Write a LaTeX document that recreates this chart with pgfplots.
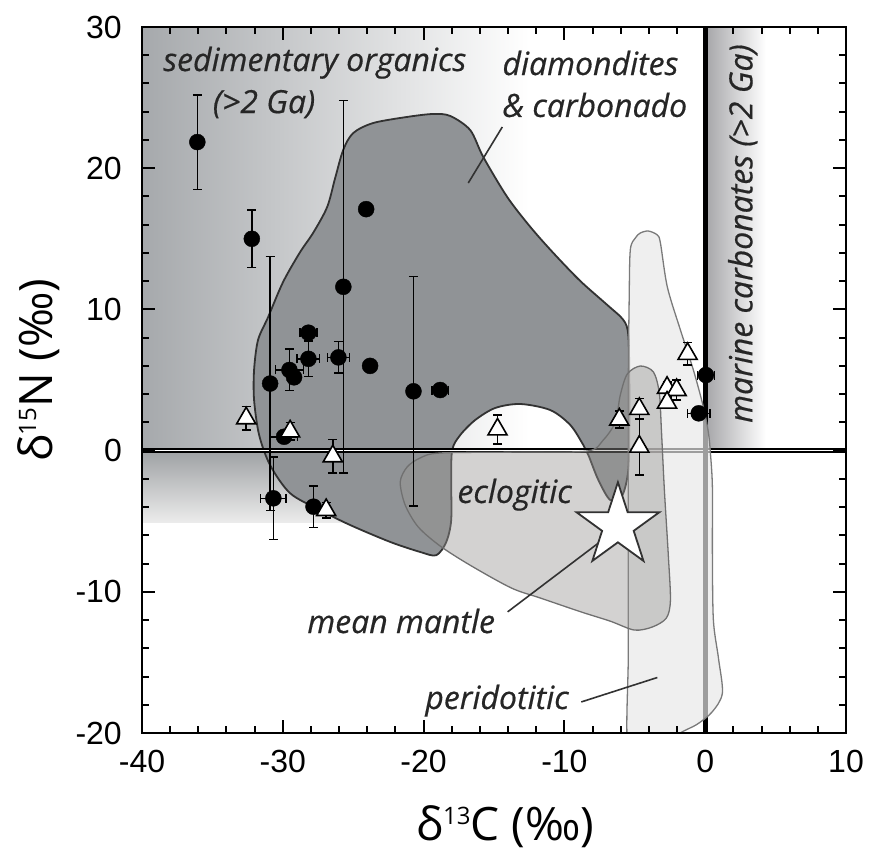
\documentclass[border=0pt]{standalone}
\usepackage{pgfplots}
\usepackage{pgfplotstable}
\usepackage{fontspec}
\pgfplotsset{compat=1.18}
\setmainfont{Liberation Sans}
\newfontfamily\opensans{Open Sans}
\newfontfamily\annfam{Open Sans}[FakeBold=0.5]
\definecolor{sedgray}{RGB}{166,169,172}
\definecolor{lowtop}{RGB}{158,161,164}
\definecolor{lowbot}{RGB}{236,236,236}
\definecolor{margray}{RGB}{165,165,168}
\definecolor{diafill}{RGB}{144,147,150}
\definecolor{diadraw}{RGB}{50,50,50}
\definecolor{eclfill}{RGB}{150,147,145}
\definecolor{ecldraw}{RGB}{112,112,112}
\definecolor{perfill}{RGB}{232,232,232}
\definecolor{perdraw}{RGB}{122,122,122}
\definecolor{txt}{RGB}{38,38,38}
\newcommand\ann{\annfam\itshape\fontsize{32}{36}\selectfont\color{txt}}
\pgfdeclareplotmark{mstar}{%
  \pgfpathmoveto{\pgfpointpolar{90}{\pgfplotmarksize}}%
  \pgfpathlineto{\pgfpointpolar{126}{0.382\pgfplotmarksize}}%
  \pgfpathlineto{\pgfpointpolar{162}{\pgfplotmarksize}}%
  \pgfpathlineto{\pgfpointpolar{198}{0.382\pgfplotmarksize}}%
  \pgfpathlineto{\pgfpointpolar{234}{\pgfplotmarksize}}%
  \pgfpathlineto{\pgfpointpolar{270}{0.382\pgfplotmarksize}}%
  \pgfpathlineto{\pgfpointpolar{306}{\pgfplotmarksize}}%
  \pgfpathlineto{\pgfpointpolar{342}{0.382\pgfplotmarksize}}%
  \pgfpathlineto{\pgfpointpolar{18}{\pgfplotmarksize}}%
  \pgfpathlineto{\pgfpointpolar{54}{0.382\pgfplotmarksize}}%
  \pgfpathclose
  \pgfusepathqfillstroke
}
\pgfplotstableread{
x y ex ey
-36.07 21.85 0 3.35
-32.2 15.0 0 2.05
-24.08 17.1 0 0
-30.9 4.75 0 9.0
-30.67 -3.38 0.9 2.93
-25.7 11.6 0 13.2
-20.72 4.2 0 8.12
-18.82 4.29 0.6 0
-23.8 6.0 0 0
-26.05 6.6 0.77 1.12
-28.18 8.35 0.6 0
-28.18 6.5 0.8 1.26
-29.53 5.71 1.0 1.47
-29.2 5.19 0 0
-29.91 0.98 0.95 0
-27.82 -3.97 0 1.47
0.05 5.35 0.6 0
-0.46 2.64 0.8 0
}\circles
\pgfplotstableread{
x y ey
-32.6 2.29 0.83
-29.48 1.36 0.62
-26.45 -0.4 1.2
-26.92 -4.21 0.55
-14.75 1.5 1.03
-6.1 2.2 0.6
-4.68 2.95 0.75
-4.68 0.28 2.0
-1.25 6.85 0.8
-2.71 4.45 0.4
-2.03 4.29 0.7
-2.71 3.4 0.4
}\triangles
\begin{document}
\begin{tikzpicture}
\begin{axis}[
  name=ax,
  scale only axis, width=704pt, height=706pt,
  xmin=-40, xmax=10, ymin=-20, ymax=30,
  axis on top,
  xtick={-40,-30,-20,-10,0,10},
  xticklabels={-40,-30,-20,-10,0,10},
  ytick={-20,-10,0,10,20,30},
  yticklabels={-20,-10,0,10,20,30},
  minor tick num=4,
  tick align=inside,
  major tick length=13pt, minor tick length=7pt,
  every tick/.style={black, line width=2pt},
  axis line style={black, line width=2.5pt},
  ticklabel style={font=\fontsize{32}{38}\selectfont, inner sep=0pt},
  xticklabel style={yshift=-17pt},
  yticklabel style={xshift=-20pt},
  xlabel={\opensans\fontsize{46}{52}\selectfont δ\raisebox{16pt}{\fontsize{24}{24}\selectfont 13}C (‰)},
  ylabel={\opensans\fontsize{46}{52}\selectfont δ\raisebox{16pt}{\fontsize{24}{24}\selectfont 15}N (‰)},
  xlabel style={at={(axis description cs:0.516,-0.1516)}, anchor=base, inner sep=0pt},
  ylabel style={at={(axis description cs:-0.1278,0.514)}, anchor=base, inner sep=0pt},
]
% background gradients
\addplot[draw=none, left color=sedgray, right color=white, forget plot]
  coordinates {(-40,0) (-12.5,0) (-12.5,30) (-40,30)} -- cycle;
\addplot[draw=none, top color=lowtop, bottom color=lowbot, forget plot]
  coordinates {(-40,-5.1) (-18,-5.1) (-18,0) (-40,0)} -- cycle;
\addplot[draw=none, left color=margray, right color=white, forget plot]
  coordinates {(0,0) (4.3,0) (4.3,30) (0,30)} -- cycle;
% diamondites & carbonado
\addplot[smooth cycle, fill=diafill, draw=diadraw, line width=1.8pt, forget plot] coordinates {
(-25.71,21.29) (-25.00,22.49) (-23.58,23.20) (-21.17,23.63) (-19.32,23.84) (-18.11,23.70)
(-16.69,22.70) (-15.76,20.79) (-14.06,17.96) (-12.42,15.84) (-10.79,14.00) (-8.87,12.01)
(-6.95,10.31) (-5.81,9.25) (-5.46,8.18) (-5.39,5.0) (-5.39,1.46) (-5.46,-1.37) (-5.88,-3.14)
(-6.74,-3.50) (-7.59,-2.08) (-8.30,-0.31) (-8.66,0.40) (-9.58,1.81) (-11.0,2.87) (-13.13,3.30)
(-14.91,3.02) (-16.33,2.17) (-17.40,1.10) (-17.97,0.04) (-18.04,-2.08) (-18.04,-4.92)
(-18.39,-6.47) (-19.10,-7.41) (-20.24,-7.18) (-22.37,-6.47) (-25.22,-5.27) (-27.35,-4.22)
(-29.48,-3.02) (-30.90,-1.03) (-31.68,1.10) (-32.04,3.58) (-32.04,5.71) (-31.76,7.83)
(-31.04,9.46) (-29.98,11.94) (-28.77,14.06) (-27.85,15.41) (-26.85,17.25) (-26.28,19.31)};
% reference lines
\addplot[line width=1.6pt, draw=black, double=white, double distance=1.4pt, forget plot]
  coordinates {(-40,0) (10,0)};
\addplot[line width=5pt, draw=black, forget plot]
  coordinates {(0,-20) (0,30)};
% peridotitic
\addplot[smooth cycle, fill=perfill, fill opacity=0.68, draw=perdraw, line width=1.3pt, forget plot] coordinates {
(-4.61,15.41) (-4.04,15.55) (-3.40,15.27) (-3.18,14.70) (-2.69,11.59) (-1.76,8.54) (-0.84,5.71)
(-0.13,3.09) (0.23,1.25) (0.37,-0.17) (0.51,-2.55) (0.51,-7.22) (0.58,-11.99) (0.94,-14.69)
(1.22,-17.17) (0.5,-18.5) (-0.6,-19.4) (-1.9,-20.1) (-3.0,-21.5) (-5.4,-21.5) (-5.46,-14.12)
(-5.46,-3.0) (-5.46,5.0) (-5.40,10.67) (-5.32,14.21) (-4.96,15.06)};
% eclogitic
\addplot[smooth cycle, fill=eclfill, fill opacity=0.42, draw=ecldraw, line width=1.3pt, forget plot] coordinates {
(-21.66,-2.22) (-21.17,-1.16) (-20.24,-0.52) (-18.82,-0.17) (-13.13,-0.1) (-8.37,-0.03)
(-7.24,0.75) (-6.38,2.03) (-6.03,3.94) (-5.53,5.43) (-4.61,5.99) (-3.68,5.57) (-3.26,4.08)
(-3.11,1.46) (-2.90,-2.78) (-2.62,-7.41) (-2.47,-10.59) (-2.76,-11.86) (-3.75,-12.49)
(-5.03,-12.71) (-6.74,-12.08) (-8.80,-11.43) (-11.71,-10.44) (-13.77,-9.73) (-16.69,-8.12)
(-18.82,-6.76) (-20.38,-5.41) (-21.31,-3.85)};
% data: circles
\addplot[only marks, mark=*, mark size=8pt, black,
  error bars/.cd, x dir=both, x explicit, y dir=both, y explicit,
  error bar style={line width=1.5pt, black},
  error mark options={rotate=90, mark size=4.5pt, line width=1.5pt, black}]
  table[x=x, y=y, x error=ex, y error=ey] {\circles};
% data: triangles
\addplot[only marks, mark=triangle*, mark size=11pt, black,
  mark options={fill=white, draw=black, line width=1.6pt},
  error bars/.cd, y dir=both, y explicit,
  error bar style={line width=1.5pt, black},
  error mark options={rotate=90, mark size=4.5pt, line width=1.5pt, black}]
  table[x=x, y=y, y error=ey] {\triangles};
% mean mantle star
\addplot[only marks, mark=mstar, mark size=43.5pt, mark options={fill=white, draw=diadraw, line width=1.8pt}]
  coordinates {(-6.2,-5.32)};
% pointer lines
\addplot[draw=diadraw, line width=1.6pt] coordinates {(-14.41,22.92) (-16.83,18.95)};
\addplot[draw=diadraw, line width=1.6pt] coordinates {(-14.03,-11.42) (-6.17,-5.48)};
\addplot[draw=diadraw, line width=1.6pt] coordinates {(-8.8,-17.8) (-3.40,-16.07)};
% labels
\node[anchor=base west, inner sep=0pt, font=\ann] at (axis cs:-38.5,26.88) {sedimentary organics};
\node[anchor=base, inner sep=0pt, font=\ann] at (axis cs:-31.33,23.9) {(>2 Ga)};
\node[anchor=base west, inner sep=0pt, font=\ann] at (axis cs:-14.41,26.6) {diamondites};
\node[anchor=base west, inner sep=0pt, font=\ann] at (axis cs:-14.41,23.63) {\& carbonado};
\node[anchor=base west, inner sep=0pt, rotate=90, font=\ann] at (axis cs:3.35,1.95) {marine carbonates (>2 Ga)};
\node[anchor=base west, inner sep=0pt, font=\ann] at (axis cs:-17.61,-3.71) {eclogitic};
\node[anchor=base west, inner sep=0pt, font=\ann] at (axis cs:-28.27,-12.92) {mean mantle};
\node[anchor=base west, inner sep=0pt, font=\ann] at (axis cs:-19.89,-18.3) {peridotitic};
\end{axis}
\pgfresetboundingbox
\path[use as bounding box] ([xshift=-142pt,yshift=-119pt]ax.south west) rectangle ([xshift=24pt,yshift=27pt]ax.north east);
\end{tikzpicture}
\end{document}
